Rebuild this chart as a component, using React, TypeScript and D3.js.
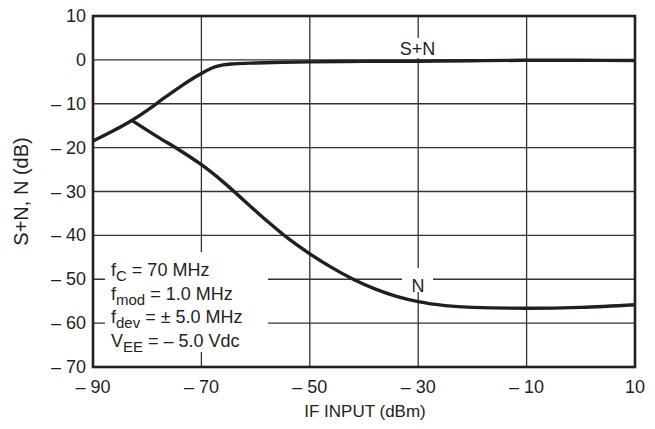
import React from 'react';
import * as d3 from 'd3';

// IF input sweep (dBm) and measured levels (dB)
const snInput = [-90, -86, -82.7, -80, -77, -74, -71, -69, -67.5, -66, -64, -60, -55, -50, -40, -30, -20, -10, 0, 10];
const snLevel = [-18.5, -16.0, -13.7, -11.5, -8.8, -6.2, -3.8, -2.4, -1.6, -1.15, -0.9, -0.7, -0.55, -0.45, -0.35, -0.3, -0.2, -0.1, -0.1, -0.15];

const nInput = [-82.7, -78, -74, -70, -66, -62, -58, -54, -50, -46, -42, -38, -34, -30, -25, -20, -10, 0, 10];
const nLevel = [-13.9, -17.6, -20.6, -23.9, -27.8, -32.2, -36.6, -40.7, -44.2, -47.3, -50.0, -52.2, -53.9, -55.1, -56.0, -56.4, -56.6, -56.4, -55.8];

const xTicks = [-90, -70, -50, -30, -10, 10];
const yTicks = [10, 0, -10, -20, -30, -40, -50, -60, -70];

const conditions = [
  { main: 'f', sub: 'C', rest: ' = 70 MHz' },
  { main: 'f', sub: 'mod', rest: ' = 1.0 MHz' },
  { main: 'f', sub: 'dev', rest: ' = \u00b1 5.0 MHz' },
  { main: 'V', sub: 'EE', rest: ' = \u2013 5.0 Vdc' },
];

const ink = '#231f20';
const font = '"Liberation Sans", Arial, sans-serif';

const fmt = (v: number) => (v < 0 ? `\u2013 ${Math.abs(v)}` : `${v}`);

const App: React.FC = () => {
  const width = 655;
  const height = 429;
  const margin = { top: 16, right: 20, bottom: 62, left: 93 };

  const x = d3.scaleLinear().domain([-90, 10]).range([margin.left, width - margin.right]);
  const y = d3.scaleLinear().domain([-70, 10]).range([height - margin.bottom, margin.top]);

  const line = d3
    .line<[number, number]>()
    .x((d) => x(d[0]))
    .y((d) => y(d[1]))
    .curve(d3.curveMonotoneX);

  const snPath = line(snInput.map((v, i) => [v, snLevel[i]]) as [number, number][]) || '';
  const nPath = line(nInput.map((v, i) => [v, nLevel[i]]) as [number, number][]) || '';

  const [x0, x1] = x.range();
  const [y0, y1] = y.range();

  return (
    <div style={{ position: 'absolute', left: 0, top: 0 }}>
      <svg width={width} height={height} style={{ display: 'block', background: '#fff' }}>
        {/* grid */}
        <g stroke="#333" strokeWidth={1.3}>
          {xTicks.slice(1, -1).map((t) => (
            <line key={'gx' + t} x1={x(t)} x2={x(t)} y1={y1} y2={y0} />
          ))}
          {yTicks.slice(1, -1).map((t) => (
            <line key={'gy' + t} x1={x0} x2={x1} y1={y(t)} y2={y(t)} />
          ))}
        </g>

        {/* white backgrounds behind labels */}
        <rect x={105} y={252} width={163} height={100} fill="#fff" />
        <rect x={402} y={268} width={31} height={24} fill="#fff" />
        <rect x={399} y={38} width={38} height={20} fill="#fff" />

        {/* curves */}
        <path d={snPath} fill="none" stroke={ink} strokeWidth={3.4} strokeLinejoin="round" />
        <path d={nPath} fill="none" stroke={ink} strokeWidth={3.4} strokeLinejoin="round" />

        {/* frame */}
        <rect x={x0} y={y1} width={x1 - x0} height={y0 - y1} fill="none" stroke={ink} strokeWidth={2.6} />

        <g fill={ink} fontFamily={font} fontSize={18}>
          {yTicks.map((t) => (
            <text key={'ty' + t} x={86} y={y(t)} textAnchor="end" dominantBaseline="central">
              {fmt(t)}
            </text>
          ))}
          {xTicks.map((t) => (
            <text key={'tx' + t} x={x(t)} y={393} textAnchor="middle">
              {fmt(t)}
            </text>
          ))}
          <text x={(x0 + x1) / 2 + 1} y={417} textAnchor="middle" fontSize={17}>
            IF INPUT (dBm)
          </text>
          <text
            transform={`translate(21,${(y0 + y1) / 2}) rotate(-90)`}
            textAnchor="middle"
            dominantBaseline="central"
            fontSize={20}
          >
            S+N, N (dB)
          </text>

          <text x={417.5} y={55} textAnchor="middle">
            S+N
          </text>
          <text x={418} y={292} textAnchor="middle">
            N
          </text>

          {conditions.map((c, i) => (
            <text key={c.sub} x={111} y={276 + i * 23.5}>
              {c.main}
              <tspan fontSize={15} dy={5}>
                {c.sub}
              </tspan>
              <tspan dy={-5}>{c.rest}</tspan>
            </text>
          ))}
        </g>
      </svg>
    </div>
  );
};

export default App;
